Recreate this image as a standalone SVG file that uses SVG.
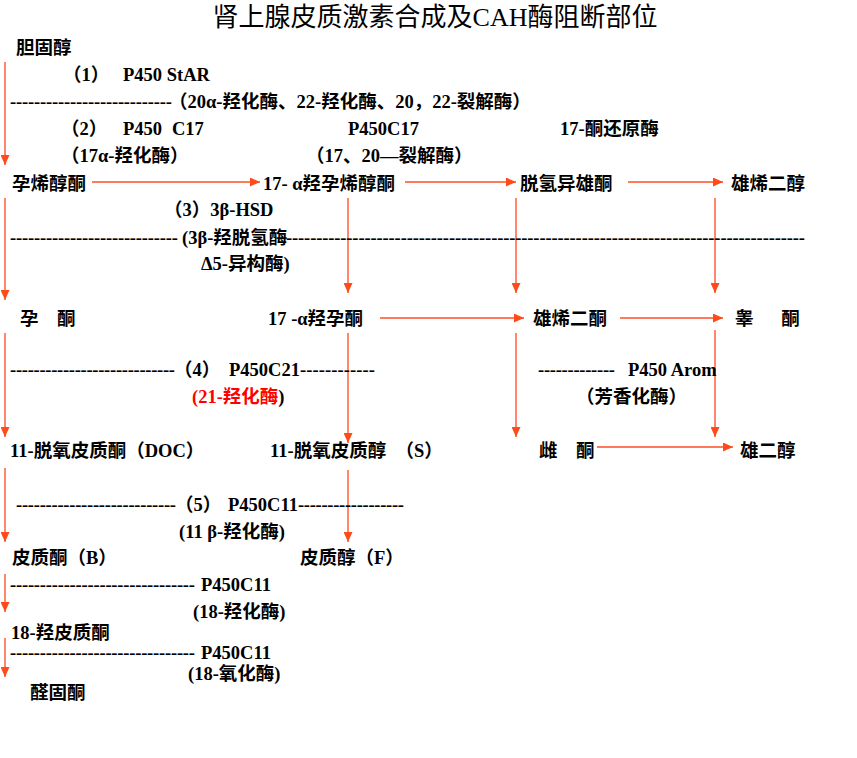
<svg xmlns="http://www.w3.org/2000/svg" width="857" height="758" viewBox="0 0 857 758">
<style>
text{font-family:"Liberation Serif","Noto Sans CJK SC",serif;font-size:18.5px;font-weight:bold;fill:#000}
.title{font-size:26px;font-weight:normal}
.red{fill:#FF0000}
.arr{stroke:#FF7A5C;stroke-width:1.8;fill:none;marker-end:url(#ah)}
</style>
<defs>
<marker id="ah" markerUnits="userSpaceOnUse" markerWidth="10" markerHeight="9" refX="10" refY="4.5" orient="auto">
<path d="M0,0 L10,4.5 L0,9 z" fill="#FF4A1A"/>
</marker>
</defs>
<rect width="857" height="758" fill="#fff"/>
<text class="title" x="435" y="26" text-anchor="middle">肾上腺皮质激素合成及CAH酶阻断部位</text>

<g id="connectors">
<line class="arr" x1="5" y1="62" x2="5" y2="165"/>
<line class="arr" x1="5" y1="198" x2="5" y2="300"/>
<line class="arr" x1="5" y1="333" x2="5" y2="437"/>
<line class="arr" x1="5" y1="468" x2="5" y2="542"/>
<line class="arr" x1="5" y1="574" x2="5" y2="612"/>
<line class="arr" x1="5" y1="638" x2="5" y2="677"/>
<line class="arr" x1="348" y1="198" x2="348" y2="293"/>
<line class="arr" x1="348" y1="333" x2="348" y2="443"/>
<line class="arr" x1="348" y1="470" x2="348" y2="542"/>
<line class="arr" x1="516" y1="198" x2="516" y2="293"/>
<line class="arr" x1="516" y1="333" x2="516" y2="437"/>
<line class="arr" x1="715" y1="198" x2="715" y2="293"/>
<line class="arr" x1="715" y1="330" x2="715" y2="437"/>
<line class="arr" x1="92" y1="182" x2="260" y2="182"/>
<line class="arr" x1="405" y1="182" x2="516" y2="182"/>
<line class="arr" x1="628" y1="182" x2="723" y2="182"/>
<line class="arr" x1="380" y1="318" x2="524" y2="318"/>
<line class="arr" x1="620" y1="318" x2="723" y2="318"/>
<line class="arr" x1="597" y1="447" x2="733" y2="447"/>
</g>

<g id="enzymes">
<text x="63" y="81">（1）<tspan x="123">P450 StAR</tspan></text>
<text x="10" y="108" textLength="162" lengthAdjust="spacing">---------------------------</text>
<text x="169" y="108">（20α-羟化酶、22-羟化酶、20，22-裂解酶）</text>
<text x="61" y="135">（2）<tspan x="123">P450</tspan><tspan x="172">C17</tspan></text>
<text x="348" y="135">P450C17</text>
<text x="560" y="135">17-酮还原酶</text>
<text x="61" y="162">（17α-羟化酶）</text>
<text x="306" y="162">（17、20—裂解酶）</text>
<text x="164" y="216">（3）3β-HSD</text>
<text x="10" y="244" textLength="168" lengthAdjust="spacing">----------------------------</text>
<text x="182" y="244">(3β-羟脱氢酶</text>
<text x="286" y="244" textLength="519" lengthAdjust="spacing">--------------------------------------------------------------------------------------</text>
<text x="201" y="270">Δ5-异构酶)</text>
<text x="10" y="376" textLength="165" lengthAdjust="spacing">----------------------------</text>
<text x="174" y="376">（4）<tspan x="229">P450C21</tspan></text>
<text x="300" y="376" textLength="75" lengthAdjust="spacing">------------</text>
<text x="192" y="403"><tspan class="red">(21-羟化酶</tspan>)</text>
<text x="538" y="376" textLength="77" lengthAdjust="spacing">-------------</text>
<text x="628" y="376">P450 Arom</text>
<text x="576" y="403">（芳香化酶）</text>
<text x="16" y="511" textLength="160" lengthAdjust="spacing">---------------------------</text>
<text x="175" y="511">（5）<tspan x="228">P450C11</tspan></text>
<text x="298" y="511" textLength="106" lengthAdjust="spacing">------------------</text>
<text x="179" y="538">(11 β-羟化酶)</text>
<text x="10" y="591" textLength="185" lengthAdjust="spacing">-------------------------------</text>
<text x="201" y="591">P450C11</text>
<text x="193" y="618">(18-羟化酶)</text>
<text x="10" y="659" textLength="185" lengthAdjust="spacing">-------------------------------</text>
<text x="201" y="659">P450C11</text>
<text x="188" y="680">(18-氧化酶)</text>
</g>

<g id="n-cholesterol"><text x="16" y="54">胆固醇</text></g>
<g id="n-pregnenolone"><text x="12" y="190">孕烯醇酮</text></g>
<g id="n-17oh-pregnenolone"><text x="263" y="190">17- α羟孕烯醇酮</text></g>
<g id="n-dhea"><text x="520" y="190">脱氢异雄酮</text></g>
<g id="n-androstenediol"><text x="731" y="190">雄烯二醇</text></g>
<g id="n-progesterone"><text x="20" y="325">孕　酮</text></g>
<g id="n-17oh-progesterone"><text x="268" y="325">17 -α羟孕酮</text></g>
<g id="n-androstenedione"><text x="533" y="325">雄烯二酮</text></g>
<g id="n-testosterone"><text x="735" y="325" xml:space="preserve">睾　  酮</text></g>
<g id="n-doc"><text x="10" y="457">11-脱氧皮质酮（DOC）</text></g>
<g id="n-s"><text x="270" y="457">11-脱氧皮质醇　（S）</text></g>
<g id="n-estrone"><text x="539" y="457">雌　酮</text></g>
<g id="n-estradiol"><text x="740" y="457">雄二醇</text></g>
<g id="n-corticosterone"><text x="12" y="564">皮质酮（B）</text></g>
<g id="n-cortisol"><text x="300" y="564">皮质醇（F）</text></g>
<g id="n-18oh-corticosterone"><text x="11" y="639">18-羟皮质酮</text></g>
<g id="n-aldosterone"><text x="30" y="699">醛固酮</text></g>
</svg>
